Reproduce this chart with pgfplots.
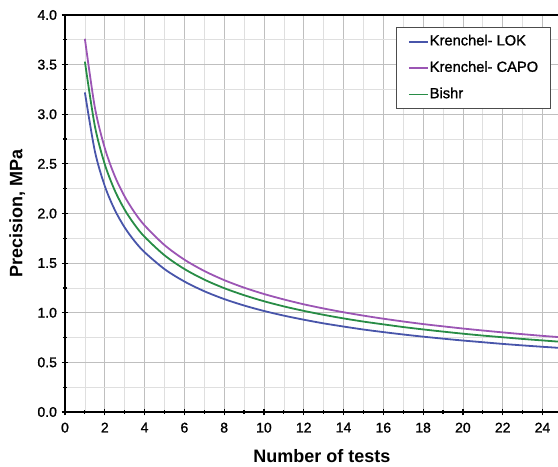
\documentclass[border=0pt]{standalone}
\usepackage{fontspec}
\setmainfont{Liberation Sans}
\newfontfamily\semib[FakeBold=1.2]{Liberation Sans}
\usepackage{pgfplots}
\pgfplotsset{compat=1.18}

\definecolor{lokblue}{HTML}{4855AA}
\definecolor{capopurple}{HTML}{9B55B4}
\definecolor{bishrgreen}{HTML}{288C46}

\begin{document}
\begin{tikzpicture}
\begin{axis}[
    scale only axis,
    width=369.75pt, height=297.75pt,
    xmin=0, xmax=24.78,
    ymin=0, ymax=4,
    xtick={0,2,...,24},
    ytick={0,0.5,...,4},
    minor x tick num=1,
    minor y tick num=1,
    grid=both,
    major grid style={gray!50, line width=0.6pt},
    minor grid style={gray!25, line width=0.5pt},
    separate axis lines,
    axis x line*=box,
    axis y line*=left,
    xtick pos=left,
    axis line style={black, line width=1.1pt},
    tick style={black, line width=0.9pt},
    tick align=center,
    major tick length=5pt,
    minor tick length=3pt,
    /pgf/number format/assume math mode=true,
    ticklabel style={font=\semib\fontsize{10.5}{12}\selectfont},
    yticklabel style={/pgf/number format/.cd, fixed, fixed zerofill, precision=1},
    xticklabel style={yshift=-2pt},
    xlabel={\bfseries Number of tests},
    ylabel={\bfseries Precision, MPa},
    label style={font=\fontsize{13.5}{15}\selectfont},
    xlabel style={at={(axis description cs:0.521,-0.11)}, anchor=center},
    ylabel style={at={(axis description cs:-0.097,0.5)}, anchor=center},
    legend image code/.code={\draw[#1] (0pt,0pt) -- (14.25pt,0pt);},
    legend cell align=left,
    legend style={
        at={(1,1)}, anchor=north east, xshift=-5.25pt, yshift=-9pt,
        draw=black!70, line width=0.6pt, fill=white,
        font=\semib\fontsize{11}{13}\selectfont,
        inner xsep=8.5pt, inner ysep=3.5pt, row sep=5.3pt,
        nodes={inner xsep=0.8pt, inner ysep=2pt, text height=8pt, text depth=2.5pt},
    },
]
\coordinate (ll) at (rel axis cs:0,0);
\coordinate (ur) at (rel axis cs:1,1);

\addplot[lokblue, line width=1.35pt, smooth] coordinates {
(1,3.220) (1.5,2.629) (2,2.277) (2.5,2.037) (3,1.859) (3.5,1.721)
(4,1.610) (5,1.440) (6,1.315) (7,1.217) (8,1.138) (9,1.073)
(10,1.018) (11,0.971) (12,0.930) (13,0.893) (14,0.861) (15,0.831)
(16,0.805) (17,0.781) (18,0.759) (19,0.739) (20,0.720) (21,0.703)
(22,0.686) (23,0.671) (24,0.657) (25,0.644)
};
\addlegendentry{Krenchel- LOK}

\addplot[capopurple, line width=1.35pt, smooth] coordinates {
(1,3.760) (1.5,3.070) (2,2.659) (2.5,2.378) (3,2.171) (3.5,2.010)
(4,1.880) (5,1.682) (6,1.535) (7,1.421) (8,1.329) (9,1.253)
(10,1.189) (11,1.134) (12,1.085) (13,1.043) (14,1.005) (15,0.971)
(16,0.940) (17,0.912) (18,0.886) (19,0.863) (20,0.841) (21,0.821)
(22,0.802) (23,0.784) (24,0.767) (25,0.752)
};
\addlegendentry{Krenchel- CAPO}

\addplot[bishrgreen, line width=1.35pt, smooth] coordinates {
(1,3.530) (1.5,2.882) (2,2.496) (2.5,2.233) (3,2.038) (3.5,1.887)
(4,1.765) (5,1.579) (6,1.441) (7,1.334) (8,1.248) (9,1.177)
(10,1.116) (11,1.064) (12,1.019) (13,0.979) (14,0.943) (15,0.911)
(16,0.883) (17,0.856) (18,0.832) (19,0.810) (20,0.789) (21,0.770)
(22,0.753) (23,0.736) (24,0.721) (25,0.706)
};
\addlegendentry{Bishr}
\end{axis}
\pgfresetboundingbox
\path ([shift={(-48.75pt,-41pt)}]ll) rectangle ([shift={(0pt,11.25pt)}]ur);
\end{tikzpicture}
\end{document}
